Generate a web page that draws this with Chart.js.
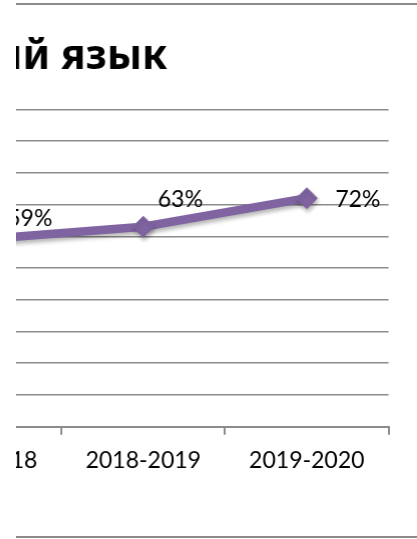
<!DOCTYPE html>
<html>
<head>
<meta charset="utf-8">
<script src="https://cdn.jsdelivr.net/npm/chart.js@4.4.0/dist/chart.umd.min.js"></script>
<style>
  html, body { margin: 0; padding: 0; background: #fff; }
  #clip { position: absolute; left: 16px; top: 0; width: 401px; height: 539px; overflow: hidden; }
  #box { position: absolute; top: 0; height: 539px; }
</style>
</head>
<body>
<div id="clip"><div id="box"><canvas id="chart"></canvas></div></div>
<script>
// data
const chartTitle = "Русский язык";
const categories = ["2017-2018", "2018-2019", "2019-2020"];
const percents = [59, 63, 72];
const yMin = 0, yMax = 100, yStep = 10;

const PURPLE = "#8064a2";
const GRAY = "#8c8c8c";
const TITLE_FONT = { family: "Noto Sans", size: 41, weight: "bold" };

// the picture only shows a slice of the chart: page x of a few edges
const CLIP_LEFT = 16;
const TITLE_END = 167;
const PLOT_LEFT = -101.7;
const PLOT_RIGHT = 388;
const CANVAS_RIGHT = 440;
const PLOT_BOTTOM = 426.7;

const m = document.createElement("canvas").getContext("2d");
m.font = "bold " + TITLE_FONT.size + "px '" + TITLE_FONT.family + "'";
const canvasLeft = TITLE_END - m.measureText(chartTitle).width;

const box = document.getElementById("box");
box.style.left = (canvasLeft - CLIP_LEFT) + "px";
box.style.width = (CANVAS_RIGHT - canvasLeft) + "px";

// chart frame (only top and bottom edges are in view)
const frame = {
  id: "frame",
  beforeDraw(chart) {
    const c = chart.ctx;
    c.save();
    c.strokeStyle = GRAY;
    c.lineWidth = 2;
    c.beginPath();
    c.moveTo(0, 4); c.lineTo(chart.width, 4);
    c.moveTo(0, 537); c.lineTo(chart.width, 537);
    c.stroke();
    c.restore();
  }
};

const shadow = {
  id: "shadow",
  beforeDatasetsDraw(chart) {
    const c = chart.ctx;
    c.save();
    c.shadowColor = "rgba(0,0,0,0.3)";
    c.shadowBlur = 4;
    c.shadowOffsetX = 1;
    c.shadowOffsetY = 3;
  },
  afterDatasetsDraw(chart) {
    chart.ctx.restore();
  }
};

// label offsets from each marker, as placed in the original
const labelShift = [[50, -21], [37, -27], [51, 1]];
const pctLabels = {
  id: "pctLabels",
  afterDatasetsDraw(chart) {
    const c = chart.ctx;
    const pts = chart.getDatasetMeta(0).data;
    c.save();
    c.fillStyle = "#000";
    c.font = "23px Lato";
    c.textAlign = "center";
    c.textBaseline = "middle";
    pts.forEach((p, i) => {
      c.fillText(percents[i] + "%", p.x + labelShift[i][0], p.y + labelShift[i][1]);
    });
    c.restore();
  }
};

const ctx = document.getElementById("chart").getContext("2d");
new Chart(ctx, {
  type: "line",
  data: {
    labels: categories,
    datasets: [{
      data: percents,
      borderColor: PURPLE,
      backgroundColor: PURPLE,
      borderWidth: 8.5,
      tension: 0,
      pointStyle: "rectRot",
      pointRadius: 10.5,
      pointHoverRadius: 10.5,
      pointBorderWidth: 1
    }]
  },
  options: {
    responsive: true,
    maintainAspectRatio: false,
    animation: false,
    events: [],
    layout: { padding: { left: 0, right: CANVAS_RIGHT - PLOT_RIGHT, top: 0, bottom: 0 } },
    plugins: {
      legend: { display: false },
      tooltip: { enabled: false },
      title: {
        display: true,
        text: chartTitle,
        align: "start",
        color: "#000",
        font: TITLE_FONT,
        padding: { top: 32.5, bottom: 27.6 }
      }
    },
    scales: {
      x: {
        offset: true,
        grid: { offset: true, drawOnChartArea: false, color: GRAY, lineWidth: 2, tickLength: 8 },
        border: { color: GRAY, width: 2 },
        ticks: { color: "#000", font: { family: "Lato", size: 23 }, padding: 12, maxRotation: 0, autoSkip: false },
        afterFit: s => { s.height = 539 - PLOT_BOTTOM; }
      },
      y: {
        min: yMin,
        max: yMax,
        ticks: { stepSize: yStep, display: false },
        grid: { color: GRAY, lineWidth: 1.5, drawTicks: false },
        border: { display: false },
        afterFit: s => { s.width = PLOT_LEFT - canvasLeft; }
      }
    }
  },
  plugins: [frame, shadow, pctLabels]
});
</script>
</body>
</html>
